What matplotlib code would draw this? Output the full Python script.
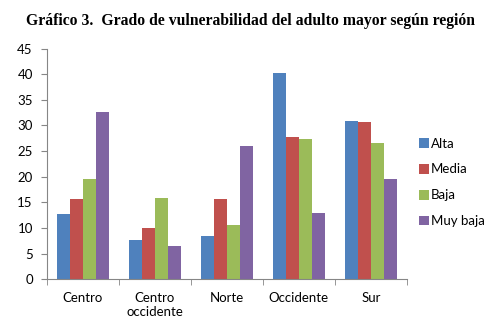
import numpy as np
import matplotlib
matplotlib.use('Agg')
import matplotlib.pyplot as plt

regiones = ['Centro', 'Centro\noccidente', 'Norte', 'Occidente', 'Sur']
series = ['Alta', 'Media', 'Baja', 'Muy baja']
alta = [12.8, 7.7, 8.4, 40.2, 30.8]
media = [15.7, 10.1, 15.7, 27.8, 30.6]
baja = [19.5, 15.9, 10.6, 27.4, 26.5]
muy_baja = [32.6, 6.4, 26.0, 13.0, 19.6]
colores = ['#4F81BD', '#C0504D', '#9BBB59', '#8064A2']

fig = plt.figure(figsize=(5.01, 3.34), dpi=100)
ax = fig.add_axes([0.0932, 0.1638, 0.7192, 0.6907])

x = np.arange(len(regiones))
w = 0.727 / 4
for i, vals in enumerate([alta, media, baja, muy_baja]):
    ax.bar(x + (i - 1.5) * w, vals, width=w, color=colores[i], label=series[i])

ax.set_xlim(-0.5, 4.5)
ax.set_ylim(0, 45)
ax.set_yticks(range(0, 46, 5))
ax.set_xticks(x)
ax.set_xticklabels(regiones, fontsize=9.5, family='Lato', linespacing=1.25)
ax.set_xticks(np.arange(-0.5, 5, 1), minor=True)
ax.tick_params(axis='x', which='major', length=0, pad=9)
ax.tick_params(axis='x', which='minor', length=4, color='#868686')
ax.tick_params(axis='y', length=4, color='#868686', labelsize=9.5, pad=6)
for lbl in ax.get_yticklabels():
    lbl.set_family('Lato')
for s in ['top', 'right']:
    ax.spines[s].set_visible(False)
for s in ['left', 'bottom']:
    ax.spines[s].set_color('#868686')

leg = ax.legend(loc='center left', bbox_to_anchor=(1.0, 0.42), frameon=False,
                prop={'family': 'Lato', 'size': 9.5}, handlelength=0.75,
                handleheight=0.75, handletextpad=0.15, labelspacing=1.05)

fig.text(0.5, 0.937, 'Gráfico 3.  Grado de vulnerabilidad del adulto mayor según región',
         ha='center', va='center', fontsize=11.3, fontweight='bold', family='Liberation Serif')

fig.savefig('out.png', dpi=100)
